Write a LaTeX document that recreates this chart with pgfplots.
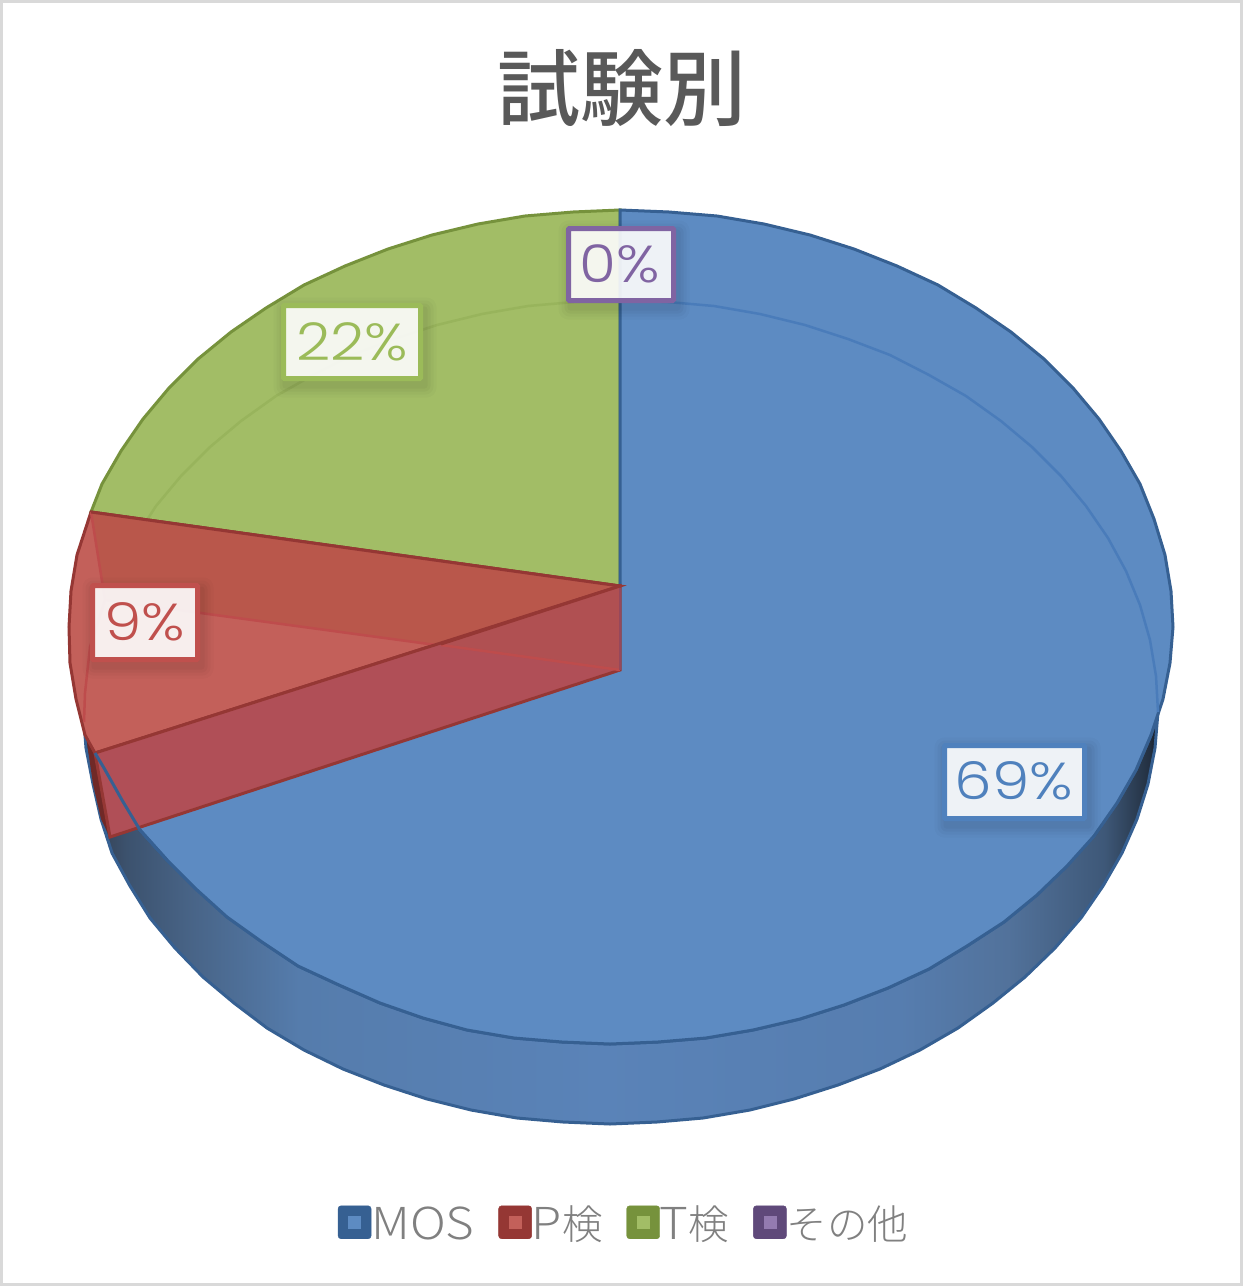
\documentclass[border=0pt]{standalone}
\usepackage{fontspec}
\usepackage{pgfplots}
\pgfplotsset{compat=1.18}
\usetikzlibrary{calc}
\setmainfont{Noto Sans CJK JP}
\newfontfamily\titlefont{Noto Sans CJK JP Medium}
\newfontfamily\legendfont{Noto Sans CJK JP Light}
\newfontfamily\legendlatin[FakeStretch=1.12]{Noto Sans CJK JP Light}
\newfontfamily\pctfont[FakeStretch=1.15]{Poppins Light}

\definecolor{bluetop}{RGB}{93,139,194}
\definecolor{bluerim}{RGB}{54,96,146}
\definecolor{blueinner}{RGB}{74,124,186}
\definecolor{greentop}{RGB}{162,189,102}
\definecolor{greenrim}{RGB}{118,146,60}
\definecolor{greeninner}{RGB}{152,180,92}
\definecolor{redtop}{RGB}{195,96,90}
\definecolor{redwallup}{RGB}{185,87,75}
\definecolor{redwalldn}{RGB}{176,79,87}
\definecolor{redwallmid}{RGB}{176,80,82}
\definecolor{redrim}{RGB}{149,55,52}
\definecolor{redinner}{RGB}{190,76,76}
\definecolor{purplerim}{RGB}{95,73,122}
\definecolor{lblblue}{RGB}{79,129,189}
\definecolor{lblred}{RGB}{192,80,77}
\definecolor{lblgreen}{RGB}{155,187,89}
\definecolor{lblpurple}{RGB}{128,100,162}

\definecolor{sa}{RGB}{50,60,75}
\definecolor{sb}{RGB}{60,82,110}
\definecolor{sc}{RGB}{72,100,135}
\definecolor{sd}{RGB}{85,124,172}
\definecolor{se}{RGB}{90,131,184}
\definecolor{sf}{RGB}{86,125,175}
\definecolor{sg}{RGB}{82,114,155}
\definecolor{sh}{RGB}{62,88,120}
\definecolor{si}{RGB}{35,48,65}
\definecolor{sj}{RGB}{20,25,35}
\pgfdeclarehorizontalshading{sideblue}{100bp}{
  color(0bp)=(sa);
  color(25bp)=(sa);
  color(27bp)=(sb);
  color(30bp)=(sc);
  color(35bp)=(sd);
  color(49bp)=(se);
  color(63bp)=(sf);
  color(68bp)=(sg);
  color(72.5bp)=(sh);
  color(74.6bp)=(si);
  color(75bp)=(sj);
  color(100bp)=(sj)}

% data label: corners of the border centre line, colour, text position, text
\newcommand{\pctlabel}[8]{
  \fill[black,opacity=.02,rounded corners=10pt] ($(axis cs:#1,#2)+(-10pt,8pt)$) rectangle ($(axis cs:#3,#4)+(16pt,-19pt)$);
  \fill[black,opacity=.025,rounded corners=8pt] ($(axis cs:#1,#2)+(-7pt,5pt)$) rectangle ($(axis cs:#3,#4)+(13pt,-16pt)$);
  \fill[black,opacity=.03,rounded corners=6pt] ($(axis cs:#1,#2)+(-4pt,2pt)$) rectangle ($(axis cs:#3,#4)+(10pt,-13pt)$);
  \fill[black,opacity=.03,rounded corners=3pt] ($(axis cs:#1,#2)+(-1pt,-1pt)$) rectangle ($(axis cs:#3,#4)+(7pt,-10pt)$);
  \draw[draw=#5,line width=5pt,fill=white,fill opacity=.9,draw opacity=1,rounded corners=1pt] (axis cs:#1,#2) rectangle (axis cs:#3,#4);
  \node[text=#5,inner sep=0pt,anchor=center,font=\pctfont\fontsize{52}{60}\selectfont] at (axis cs:#6,#7) {#8};
}

\begin{document}
\begin{tikzpicture}
\begin{axis}[
    scale only axis,
    width=1243pt, height=1286pt,
    xmin=0, xmax=1243,
    ymin=0, ymax=1286,
    y dir=reverse,
    axis lines=none,
    title={\textcolor[RGB]{89,89,89}{試験別}},
    title style={at={(0.5,0.9270)},anchor=center,inner sep=0pt,
        font=\titlefont\fontsize{83}{90}\selectfont},
    legend columns=4,
    legend cell align=left,
    legend style={at={(0.5012,0.0486)},anchor=center,draw=none,fill=none,
        inner sep=0pt,outer sep=0pt,
        font=\legendfont\fontsize{40.5}{48}\selectfont,
        text=black!50,
        nodes={inner sep=0pt},
        /tikz/every even column/.append style={column sep=24pt}},
    swatch/.style 2 args={legend image code/.code={
        \fill[#1,rounded corners=3pt] (0pt,-15pt) rectangle (33pt,18pt);
        \fill[#2] (10.5pt,-4.5pt) rectangle (22.5pt,7.5pt);
    }},
]
% frame
\draw[draw=black!15,line width=3pt,fill=white] (axis cs:1.5,1.5) rectangle (axis cs:1241.5,1284.5);

% side wall, seen below the rim
\addplot[forget plot,shade,shading=sideblue,draw=bluerim,line width=3pt] coordinates {
 (1158,712)(1155,748)(1148,784)(1137,819)(1122,853)(1103,886)(1081,918)(1055,948)(1025,977)(993,1003)
 (958,1028)(920,1050)(880,1069)(838,1085)(794,1099)(750,1110)(703,1118)(657,1122)(610,1124)(563,1122)
 (517,1118)(471,1110)(427,1099)(384,1085)(343,1069)(304,1050)(267,1028)(234,1003)(203,977)(175,948)
 (150,918)(130,886)(112,853)(101,819)(93,784)(86,748)(84,722)(95,753)(104,768)(122,800)(140,830)
 (167,860)(196,889)(227,917)(262,942)(298,966)(339,985)(380,1003)(423,1018)(467,1030)(514,1038)
 (562,1042)(610,1044)(658,1042)(706,1038)(753,1030)(800,1019)(844,1005)(888,988)(929,969)(967,946)
 (1004,922)(1037,895)(1067,866)(1094,836)(1117,803)(1136,770)(1151,735)(1158,712)
} -- cycle;

% green slice, top
\addplot[forget plot,fill=greentop,draw=greenrim,line width=3pt] coordinates {
 (620,586)(91,512)(102,484)(121,451)(143,419)(169,388)(198,359)(231,332)(266,308)(304,285)
 (345,266)(388,249)(432,235)(478,224)(525,216)(573,212)(620,210)
} -- cycle;
\addplot[forget plot,greeninner,line width=2.5pt] coordinates {
 (147,520)(156,506)(181,476)(210,447)(241,421)(276,396)(313,375)(352,355)(394,339)(437,325)(482,314)(528,306)(574,302)(620,300)
};

% blue slice, top
\addplot[forget plot,fill=bluetop,draw=bluerim,line width=3pt] coordinates {
 (620,586)(620,210)(669,212)(717,216)(764,224)(810,235)(854,249)(897,266)(938,285)(976,308)
 (1011,332)(1044,359)(1073,388)(1099,419)(1121,451)(1140,484)(1154,519)(1165,555)(1171,591)(1173,627)
 (1170,663)(1163,699)(1151,735)(1136,770)(1117,803)(1094,836)(1067,866)(1037,895)(1004,922)(967,946)
 (929,969)(888,988)(844,1005)(800,1019)(753,1030)(706,1038)(658,1042)(610,1044)(562,1042)(514,1038)
 (467,1030)(423,1018)(380,1003)(339,985)(298,966)(262,942)(227,917)(196,889)(167,860)(140,830)
 (122,800)(104,768)(95,753)
} -- cycle;
\addplot[forget plot,blueinner,line width=2.5pt] coordinates {
 (620,300)(668,302)(714,306)(760,314)(805,325)(848,339)(890,355)(929,375)(966,396)(1001,421)
 (1032,447)(1061,476)(1086,506)(1108,538)(1126,571)(1140,605)(1150,640)(1156,676)(1158,712)
};

% red slice, outer sliver, top and walls
\addplot[forget plot,fill=redrim!75!black,draw=none] coordinates {
 (84,722)(95,753)(110,837)(101,819)(93,784)
} -- cycle;
\addplot[forget plot,fill=redtop,draw=redrim,line width=3pt] coordinates {
 (620,586)(91,512)(77,555)(71,591)(69,627)(70,663)(76,699)(85,735)(95,753)
} -- cycle;
\addplot[forget plot,fill=redwallup,draw=none] coordinates {
 (620,586)(91,512)(105,600)(620,670)
} -- cycle;
\addplot[forget plot,redinner,line width=2.5pt] coordinates {
 (91,512)(105,600)(620,670)
};
\addplot[forget plot,redinner,line width=2.5pt] coordinates {
 (105,600)(90,647)(85,693)(84,722)
};
\addplot[forget plot,redrim,line width=3pt] coordinates {(620,586)(91,512)};
\addplot[forget plot,fill=redwalldn,draw=redrim,line width=3pt] coordinates {
 (620,586)(95,753)(110,837)(620,670)
} -- cycle;
\addplot[forget plot,fill=redwallmid,draw=none] coordinates {(620,586)(441,645)(620,670)} -- cycle;
\addplot[forget plot,redinner,line width=2.5pt] coordinates {(441,645)(620,670)};
\addplot[forget plot,redrim,line width=3pt] coordinates {(620,586)(441,644)};
\addplot[forget plot,color={rgb,255:red,150;green,72;blue,92},line width=2.5pt] coordinates {(620,588)(620,670)};
\addplot[forget plot,bluerim,line width=3pt] coordinates {
 (95,753)(104,768)(122,800)(140,830)(167,860)
};

\pctlabel{283.5}{305.5}{420.5}{378.5}{lblgreen}{352}{342}{22\%}
\pctlabel{568.5}{228.5}{673.5}{300.5}{lblpurple}{620}{264}{0\%}
\pctlabel{92.5}{585.5}{197.5}{659.5}{lblred}{145}{622}{9\%}
\pctlabel{944.5}{745.5}{1084.5}{818.5}{lblblue}{1014}{781}{69\%}

\addlegendimage{swatch={bluerim}{bluetop}}
\addlegendentry{{\legendlatin\fontsize{44}{48}\selectfont MOS}}
\addlegendimage{swatch={redrim}{redtop}}
\addlegendentry{{\legendlatin\fontsize{44}{48}\selectfont P}検}
\addlegendimage{swatch={greenrim}{greentop}}
\addlegendentry{{\legendlatin\fontsize{44}{48}\selectfont T}検}
\addlegendimage{swatch={purplerim}{lblpurple!85!white}}
\addlegendentry{その他}
\end{axis}
\end{tikzpicture}
\end{document}
